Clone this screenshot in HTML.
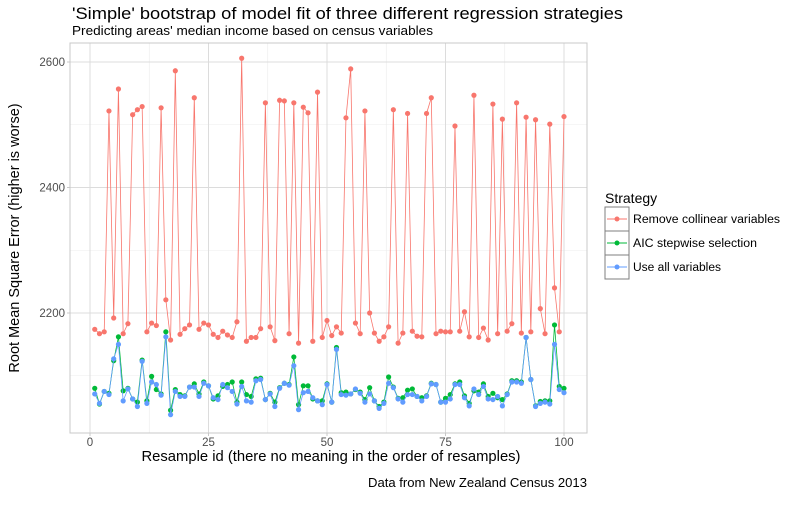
<!DOCTYPE html>
<html><head><meta charset="utf-8">
<style>
html,body{margin:0;padding:0;background:#fff;}
body{width:800px;height:500px;overflow:hidden;font-family:"Liberation Sans",sans-serif;}
svg text{font-family:"Liberation Sans",sans-serif;}
</style></head>
<body>
<svg id="chart" width="800" height="500" xmlns="http://www.w3.org/2000/svg">
<rect width="800" height="500" fill="#fff"/>
<text x="72" y="19" font-size="17" fill="#000" textLength="551" lengthAdjust="spacingAndGlyphs">'Simple' bootstrap of model fit of three different regression strategies</text>
<text x="72" y="35" font-size="12.5" fill="#000" textLength="361" lengthAdjust="spacingAndGlyphs">Predicting areas' median income based on census variables</text>
<g id="grid"></g>
<g id="series"></g>
<rect x="70" y="43" width="517" height="390" fill="none" stroke="#c8c8c8" stroke-width="1"/>
<g id="axes"></g>
<text x="331" y="461" font-size="14.5" text-anchor="middle" fill="#000" textLength="379" lengthAdjust="spacingAndGlyphs">Resample id (there no meaning in the order of resamples)</text>
<text transform="translate(19,238) rotate(-90)" font-size="14.5" text-anchor="middle" fill="#000">Root Mean Square Error (higher is worse)</text>
<text x="587" y="487" font-size="12.5" text-anchor="end" fill="#000" textLength="219" lengthAdjust="spacingAndGlyphs">Data from New Zealand Census 2013</text>
<g>
  <text x="605" y="203" font-size="14" fill="#000">Strategy</text>
  <g>
    <rect x="605" y="207" width="24" height="24" fill="#fff" stroke="#7f7f7f"/>
    <line x1="607" y1="219" x2="627" y2="219" stroke="#F8766D"/><circle cx="617" cy="219" r="2.5" fill="#F8766D"/>
    <text x="633" y="223" font-size="11.5" fill="#000" textLength="147" lengthAdjust="spacingAndGlyphs">Remove collinear variables</text>
  </g>
  <g>
    <rect x="605" y="231" width="24" height="24" fill="#fff" stroke="#7f7f7f"/>
    <line x1="607" y1="243" x2="627" y2="243" stroke="#00BA38"/><circle cx="617" cy="243" r="2.5" fill="#00BA38"/>
    <text x="633" y="247" font-size="11.5" fill="#000" textLength="124" lengthAdjust="spacingAndGlyphs">AIC stepwise selection</text>
  </g>
  <g>
    <rect x="605" y="255" width="24" height="24" fill="#fff" stroke="#7f7f7f"/>
    <line x1="607" y1="267" x2="627" y2="267" stroke="#619CFF"/><circle cx="617" cy="267" r="2.5" fill="#619CFF"/>
    <text x="633" y="271" font-size="11.5" fill="#000" textLength="88" lengthAdjust="spacingAndGlyphs">Use all variables</text>
  </g>
</g>
</svg>
<script>
const removeCollinear = [2174,2167,2170,2522,2192,2557,2167,2183,2516,2524,2529,2170,2184,2180,2527,2221,2157,2586,2166,2175,2181,2543,2174,2184,2181,2166,2161,2171,2165,2161,2186,2606,2155,2161,2161,2175,2535,2178,2156,2539,2538,2167,2535,2152,2528,2519,2155,2552,2161,2188,2164,2178,2168,2511,2589,2184,2167,2522,2200,2168,2155,2162,2178,2524,2152,2168,2518,2171,2163,2162,2518,2543,2167,2171,2170,2170,2498,2171,2202,2162,2547,2161,2176,2157,2533,2167,2509,2171,2183,2535,2168,2512,2170,2508,2207,2167,2501,2240,2170,2513];
const aicStepwise = [2080,2055,2075,2072,2124,2162,2076,2080,2063,2058,2125,2060,2099,2078,2071,2170,2045,2078,2070,2068,2082,2087,2071,2090,2084,2063,2068,2083,2086,2090,2058,2090,2070,2067,2095,2096,2062,2072,2058,2081,2088,2086,2130,2054,2084,2084,2063,2060,2060,2087,2058,2145,2073,2074,2071,2078,2074,2062,2081,2060,2051,2058,2098,2082,2064,2065,2077,2079,2067,2065,2068,2088,2086,2058,2064,2070,2087,2090,2068,2056,2076,2074,2087,2067,2072,2065,2062,2071,2092,2092,2090,2161,2094,2052,2059,2060,2060,2181,2083,2080];
const useAll = [2071,2056,2075,2070,2127,2150,2060,2079,2063,2051,2123,2056,2090,2086,2069,2162,2038,2075,2067,2067,2082,2082,2067,2088,2084,2065,2062,2086,2081,2075,2055,2083,2060,2058,2092,2094,2062,2071,2051,2080,2088,2085,2116,2046,2073,2075,2065,2060,2054,2086,2058,2142,2070,2069,2071,2079,2072,2058,2071,2060,2048,2056,2088,2081,2063,2058,2070,2070,2067,2060,2067,2087,2086,2058,2058,2063,2086,2086,2065,2052,2079,2070,2083,2063,2062,2067,2052,2070,2090,2090,2088,2161,2094,2051,2056,2058,2055,2150,2078,2073];
const xTicks = [0,25,50,75,100];
const yTicks = [2200,2400,2600];
const xMinor = [12.5,37.5,62.5,87.5];
const yMinor = [2100,2300,2500];

const NS='http://www.w3.org/2000/svg';
const X0=70,X1=587,Y0=43,Y1=433;
function xs(v){return 90 + v*4.74;}
function ys(v){return 62 + (2600-v)*0.6275;}
function mk(tag,attrs,parent){const e=document.createElementNS(NS,tag);for(const k in attrs)e.setAttribute(k,attrs[k]);parent.appendChild(e);return e;}
const grid=document.getElementById('grid'), axes=document.getElementById('axes'), ser=document.getElementById('series');
xMinor.forEach(v=>{const l=mk('line',{x1:xs(v),x2:xs(v),y1:Y0,y2:Y1,stroke:'#ececec','stroke-width':0.6},grid);

});
yMinor.forEach(v=>{const l=mk('line',{x1:X0,x2:X1,y1:ys(v),y2:ys(v),stroke:'#ececec','stroke-width':0.6},grid);

});
xTicks.forEach(v=>{const l=mk('line',{x1:xs(v),x2:xs(v),y1:Y0,y2:Y1,stroke:'#dcdcdc','stroke-width':1},grid);


const tk=mk('line',{x1:xs(v),x2:xs(v),y1:Y1,y2:Y1+3,stroke:'#c8c8c8'},axes);


const t=mk('text',{x:xs(v),y:446,'font-size':11.5,'text-anchor':'middle',fill:'#4d4d4d'},axes);t.textContent=v;

});
yTicks.forEach(v=>{const l=mk('line',{x1:X0,x2:X1,y1:ys(v),y2:ys(v),stroke:'#dcdcdc','stroke-width':1},grid);


const tk=mk('line',{x1:X0-3,x2:X0,y1:ys(v),y2:ys(v),stroke:'#c8c8c8'},axes);


const t=mk('text',{x:X0-5,y:ys(v)+4,'font-size':11.5,'text-anchor':'end',fill:'#4d4d4d'},axes);t.textContent=v;

});
function drawSeries(vals,color,name){
  const g=mk('g',{},ser);
  
  
  const pts=vals.map((v,i)=>xs(i+1).toFixed(2)+','+ys(v).toFixed(2)).join(' ');
  const pl=mk('polyline',{points:pts,fill:'none',stroke:color,'stroke-width':0.8},g);
  
  
  vals.forEach((v,i)=>{const c=mk('circle',{cx:xs(i+1),cy:ys(v),r:2.6,fill:color},g);
  
  });
}
drawSeries(removeCollinear,'#F8766D','remove-collinear');
drawSeries(aicStepwise,'#00BA38','aic-stepwise');
drawSeries(useAll,'#619CFF','use-all');
</script>
</body></html>
